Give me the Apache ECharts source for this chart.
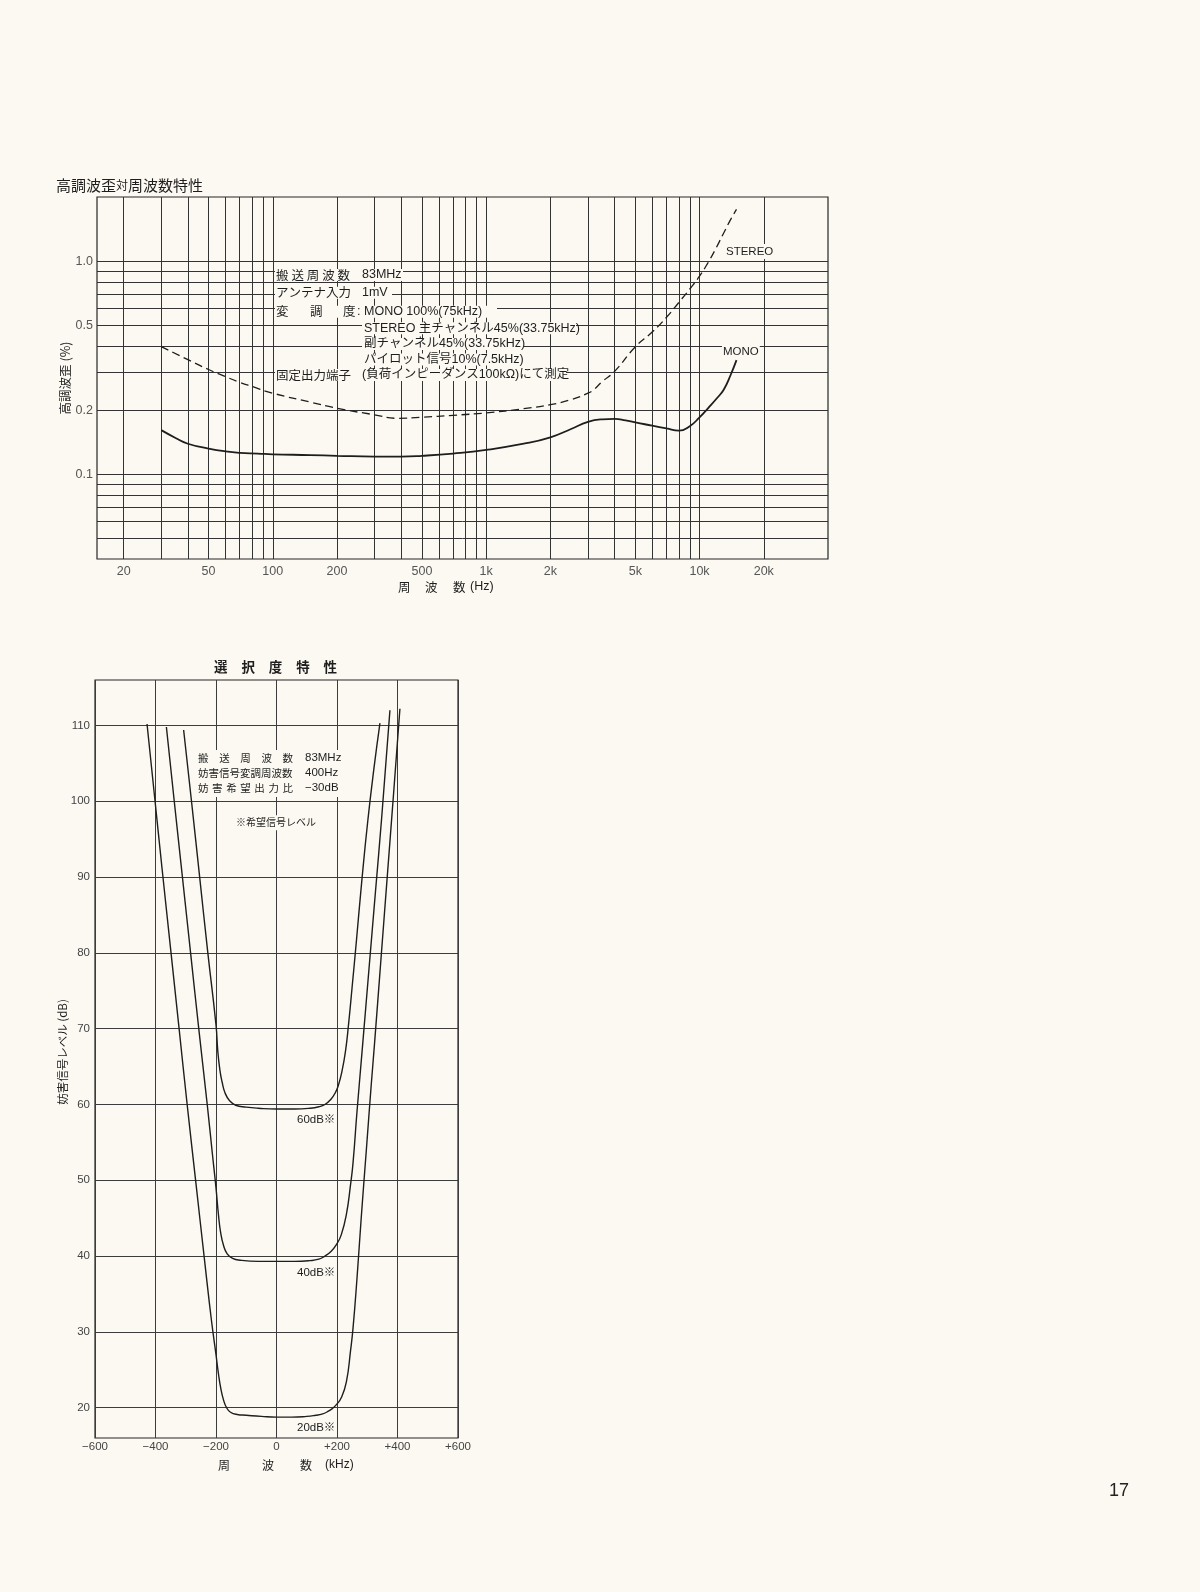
<!DOCTYPE html>
<html>
<head>
<meta charset="utf-8">
<script src="https://cdn.jsdelivr.net/npm/echarts@6/dist/echarts.min.js"></script>
<style>
html,body{margin:0;padding:0;background:#fbf9f1;}
#c{width:1200px;height:1592px;}
</style>
</head>
<body>
<div id="c"></div>
<script>
// ---------- Top chart: 高調波歪対周波数特性 ----------
const thdGridX = [20,30,40,50,60,70,80,90,100,200,300,400,500,600,700,800,900,1000,2000,3000,4000,5000,6000,7000,8000,9000,10000,20000];
const thdGridY = [0.05,0.06,0.07,0.08,0.09,0.1,0.2,0.3,0.4,0.5,0.6,0.7,0.8,0.9,1.0];
const thdLabelX = [20,50,100,200,500,1000,2000,5000,10000,20000];
const thdLabelXText = ['20','50','100','200','500','1k','2k','5k','10k','20k'];
const thdLabelY = [0.1,0.2,0.5,1.0];

const monoFreq = [30,35,40,50,60,70,85,100,150,200,300,400,500,700,1000,1500,2000,2500,3000,3500,4000,4500,5000,6000,7000,8000,9000,10000,11000,12000,13000,14000,14900];
const monoTHD  = [0.161,0.148,0.139,0.132,0.128,0.126,0.125,0.124,0.123,0.122,0.121,0.121,0.122,0.125,0.130,0.139,0.149,0.163,0.176,0.181,0.182,0.179,0.175,0.169,0.164,0.160,0.168,0.185,0.205,0.226,0.250,0.293,0.343];

const stereoFreq = [30,40,50,60,70,80,100,150,200,300,380,500,700,1000,1500,2000,2500,3000,3200,3500,4000,5000,6000,7000,8000,9000,10000,11000,12000,13000,14000,14900];
const stereoTHD  = [0.397,0.345,0.31,0.287,0.27,0.258,0.24,0.218,0.204,0.19,0.183,0.185,0.189,0.194,0.203,0.212,0.224,0.24,0.25,0.272,0.304,0.396,0.465,0.545,0.64,0.74,0.85,0.99,1.16,1.36,1.57,1.75];

// ---------- Bottom chart: 選択度特性 ----------
const selXTicks  = [-600,-400,-200,0,200,400,600];
const selXLabels = ['\u2212600','\u2212400','\u2212200','0','+200','+400','+600'];
const selYTicks  = [20,30,40,50,60,70,80,90,100,110];

const sel20Freq  = [-428,-404,-378,-350,-322,-294,-266,-238,-215,-200,-192,-184,-175,-165,-152,-130,-100,-50,0,50,100,130,150,170,185,198,214,231,245,253,266,280,297,313,324,345,366,387,408];
const sel20Level = [110.2,101,91,80.5,70,59.5,49.5,39.5,31.5,27,24.5,22.5,21,20,19.4,19.1,19.0,18.85,18.75,18.75,18.85,19.0,19.15,19.5,19.9,20.4,21.3,23.4,27.6,30.5,37,45,54,62.5,68,79,90,101,112.2];

const sel40Freq  = [-364,-338,-311,-284,-257,-229,-212,-200,-192,-185,-175,-163,-145,-120,-60,0,60,110,140,160,180,198,214,231,245,253,266,285,306,327,348,375];
const sel40Level = [109.8,100,90,80,70,60,53.5,49,45.5,43.2,41.4,40.3,39.7,39.45,39.3,39.3,39.3,39.4,39.6,40.0,40.6,41.5,42.8,45.5,49.5,52.3,59,68,78,88,98,112];

const sel60Freq  = [-307,-281,-254,-227,-200,-194,-187,-180,-170,-155,-135,-100,-60,0,60,110,140,160,180,195,205,216,228,238,250,264,282,302,322,342];
const sel60Level = [109.4,100,90,80,70.5,67,64.5,63,61.5,60.5,59.9,59.65,59.5,59.4,59.4,59.5,59.7,60.0,60.7,61.6,62.6,64.3,67,70.5,75.5,81.5,89.5,97.5,104.3,110.3];

// ---------- helpers ----------
const PAPER = '#fbf9f1';
const INK = '#1e1e1e';
const FONT = '"Liberation Sans","Noto Sans CJK JP",sans-serif';
const CJK = '"Noto Sans CJK JP","Liberation Sans",sans-serif';
const pairs = (xs, ys) => xs.map((x, i) => [x, ys[i]]);

function txt(x, y, s, size, extra) {
  return Object.assign({ type: 'text', x: x, y: y, z: 50,
    style: Object.assign({ text: s, fontSize: size, fontFamily: FONT, fill: INK,
      align: 'left', verticalAlign: 'middle' }, (extra && extra.style) || {}) },
    extra && extra.el ? extra.el : {});
}
function spread(str, x0, x1, y, size, style) {
  const chars = Array.from(str);
  const step = (x1 - x0 - size) / (chars.length - 1);
  return chars.map((c, i) => txt(x0 + i * step, y, c, size, { style: Object.assign({ fontFamily: CJK }, style || {}) }));
}
function mask(x, y, w, h) {
  return { type: 'rect', z: 40, shape: { x: x, y: y, width: w, height: h }, style: { fill: PAPER } };
}
const maskStyle = { backgroundColor: PAPER, padding: [1, 1], lineHeight: 13 };

const graphics = [];
// Top chart title
graphics.push({ type: 'text', x: 56, y: 185, z: 50, style: {
  text: '{a|高調波歪}{b|対}{a|周波数特性}', fill: INK, verticalAlign: 'middle', align: 'left',
  rich: { a: { fontSize: 15, fontFamily: CJK, fill: INK }, b: { fontSize: 12, fontFamily: CJK, fill: INK } } } });
// Top y-axis name (rotated)
graphics.push({ type: 'text', x: 65, y: 378, rotation: Math.PI / 2, z: 50,
  style: { text: '高調波歪 (%)', fontSize: 12.5, fontFamily: CJK, fill: INK, align: 'center', verticalAlign: 'middle' } });
// Top x-axis name
graphics.push(txt(398, 587, '周', 12.5, { style: { fontFamily: CJK } }));
graphics.push(txt(425, 587, '波', 12.5, { style: { fontFamily: CJK } }));
graphics.push(txt(453, 587, '数', 12.5, { style: { fontFamily: CJK } }));
graphics.push(txt(470, 587, '(Hz)', 12.5));
// Top annotation block: row masks that break the grid behind the text
graphics.push(mask(275, 269, 128, 12));
graphics.push(mask(275, 286.7, 117, 12));
graphics.push(mask(275, 305.7, 222, 12));
graphics.push(mask(362, 322.3, 214, 12));
graphics.push(mask(362, 338, 162, 12));
graphics.push(mask(362, 353.5, 158, 12));
graphics.push(mask(275, 369, 291, 12));
const ts = 12.5;
spread('搬送周波数', 276, 350, 275, ts).forEach(g => graphics.push(g));
graphics.push(txt(362, 275, '83MHz', ts));
graphics.push(txt(276, 292.7, 'アンテナ入力', ts, { style: { fontFamily: CJK } }));
graphics.push(txt(362, 292.7, '1mV', ts));
graphics.push(txt(276, 311.7, '変', ts, { style: { fontFamily: CJK } }));
graphics.push(txt(310, 311.7, '調', ts, { style: { fontFamily: CJK } }));
graphics.push(txt(343, 311.7, '度', ts, { style: { fontFamily: CJK } }));
graphics.push(txt(357, 311.2, ':', ts));
graphics.push(txt(364, 311.7, 'MONO 100%(75kHz)', ts));
graphics.push(txt(364, 328.3, 'STEREO 主チャンネル45%(33.75kHz)', ts));
graphics.push(txt(364, 344, '副チャンネル45%(33.75kHz)', ts));
graphics.push(txt(364, 359.5, 'パイロット信号10%(7.5kHz)', ts));
graphics.push(txt(276, 375, '固定出力端子', ts, { style: { fontFamily: CJK } }));
graphics.push(txt(362, 375, '(負荷インピーダンス100kΩ)にて測定', ts));
// Curve labels
graphics.push(txt(725, 251.5, 'STEREO', 11.5, { style: maskStyle }));
graphics.push(txt(722, 351.5, 'MONO', 11.5, { style: maskStyle }));

// Bottom chart title
spread('選択度特性', 214, 337, 667, 13.5, { fontWeight: 'bold' }).forEach(g => graphics.push(g));
// Bottom y-axis name
graphics.push({ type: 'text', x: 63, y: 1052, rotation: Math.PI / 2, z: 50,
  style: { text: '妨害信号レベル (dB)', fontSize: 11.5, fontFamily: CJK, fill: INK, align: 'center', verticalAlign: 'middle' } });
// Bottom x-axis name
graphics.push(txt(218, 1465, '周', 12, { style: { fontFamily: CJK } }));
graphics.push(txt(262, 1465, '波', 12, { style: { fontFamily: CJK } }));
graphics.push(txt(300, 1465, '数', 12, { style: { fontFamily: CJK } }));
graphics.push(txt(325, 1465, '(kHz)', 12));
// Bottom annotation block
graphics.push(mask(194, 750, 153, 47));
spread('搬送周波数', 198, 293, 758.3, 10.5).forEach(g => graphics.push(g));
graphics.push(txt(305, 758.3, '83MHz', 11.5));
graphics.push(txt(198, 773.3, '妨害信号変調周波数', 10.5, { style: { fontFamily: CJK } }));
graphics.push(txt(305, 773.3, '400Hz', 11.5));
spread('妨害希望出力比', 198, 293, 787.7, 10.5).forEach(g => graphics.push(g));
graphics.push(txt(305, 787.7, '\u221230dB', 11.5));
graphics.push(txt(235, 822.7, '※希望信号レベル', 10, { style: Object.assign({ fontFamily: CJK }, maskStyle) }));
// Curve level labels
graphics.push(txt(297, 1120, '60dB※', 11.5));
graphics.push(txt(297, 1272.7, '40dB※', 11.5));
graphics.push(txt(297, 1428.3, '20dB※', 11.5));
// Page number
graphics.push({ type: 'text', x: 1119, y: 1491, z: 50, style: { text: '17', fontSize: 18, fontFamily: FONT, fill: '#222', align: 'center', verticalAlign: 'middle' } });

const chart = echarts.init(document.getElementById('c'));
const nearestLabel = (v) => {
  let best = 0, bd = Infinity;
  thdLabelX.forEach((t, i) => { const d = Math.abs(Math.log(v / t)); if (d < bd) { bd = d; best = i; } });
  return thdLabelXText[best];
};

chart.setOption({
  backgroundColor: PAPER,
  animation: false,
  grid: [
    { left: 97, top: 197, width: 731, height: 362, show: true, borderColor: '#262626', borderWidth: 1.2, outerBoundsMode: 'none', containLabel: false },
    { left: 95, top: 680, width: 363, height: 758, show: true, borderColor: '#262626', borderWidth: 1.2, outerBoundsMode: 'none', containLabel: false }
  ],
  xAxis: [
    { type: 'log', gridIndex: 0, logBase: 10, min: 15, max: 40000,
      axisLine: { show: false }, axisTick: { show: false, customValues: thdGridX },
      axisLabel: { customValues: thdLabelX, formatter: nearestLabel, margin: 6, color: '#555', fontSize: 12.5, fontFamily: FONT },
      splitLine: { show: true, lineStyle: { color: '#333', width: 1 } } },
    { type: 'value', gridIndex: 1, min: -600, max: 600, interval: 200,
      axisLine: { show: false }, axisTick: { show: false },
      axisLabel: { formatter: v => selXLabels[selXTicks.indexOf(Math.round(v))] || '', margin: 3, color: '#444', fontSize: 11.5, fontFamily: FONT },
      splitLine: { show: true, lineStyle: { color: '#3c3c3c', width: 1 } } }
  ],
  yAxis: [
    { type: 'log', gridIndex: 0, logBase: 10, min: 0.04, max: 2,
      axisLine: { show: false }, axisTick: { show: false, customValues: thdGridY },
      axisLabel: { customValues: thdLabelY, formatter: v => Number(v).toFixed(1), margin: 4, color: '#555', fontSize: 12.5, fontFamily: FONT },
      splitLine: { show: true, lineStyle: { color: '#333', width: 1 } } },
    { type: 'value', gridIndex: 1, min: 16, max: 116,
      axisLine: { show: false }, axisTick: { show: false, customValues: selYTicks },
      axisLabel: { customValues: selYTicks, margin: 5, color: '#444', fontSize: 11.5, fontFamily: FONT },
      splitLine: { show: true, lineStyle: { color: '#3c3c3c', width: 1 } } }
  ],
  series: [
    { name: 'MONO', type: 'line', xAxisIndex: 0, yAxisIndex: 0, data: pairs(monoFreq, monoTHD),
      showSymbol: false, smooth: 0.5, lineStyle: { color: INK, width: 1.8 } },
    { name: 'STEREO', type: 'line', xAxisIndex: 0, yAxisIndex: 0, data: pairs(stereoFreq, stereoTHD),
      showSymbol: false, smooth: 0.5, lineStyle: { color: INK, width: 1.3, type: [8, 4.5] } },
    { name: '20dB', type: 'line', xAxisIndex: 1, yAxisIndex: 1, data: pairs(sel20Freq, sel20Level),
      showSymbol: false, smooth: 0.5, lineStyle: { color: INK, width: 1.4 } },
    { name: '40dB', type: 'line', xAxisIndex: 1, yAxisIndex: 1, data: pairs(sel40Freq, sel40Level),
      showSymbol: false, smooth: 0.5, lineStyle: { color: INK, width: 1.4 } },
    { name: '60dB', type: 'line', xAxisIndex: 1, yAxisIndex: 1, data: pairs(sel60Freq, sel60Level),
      showSymbol: false, smooth: 0.5, lineStyle: { color: INK, width: 1.4 } }
  ],
  graphic: { elements: graphics }
});
</script>
</body>
</html>
